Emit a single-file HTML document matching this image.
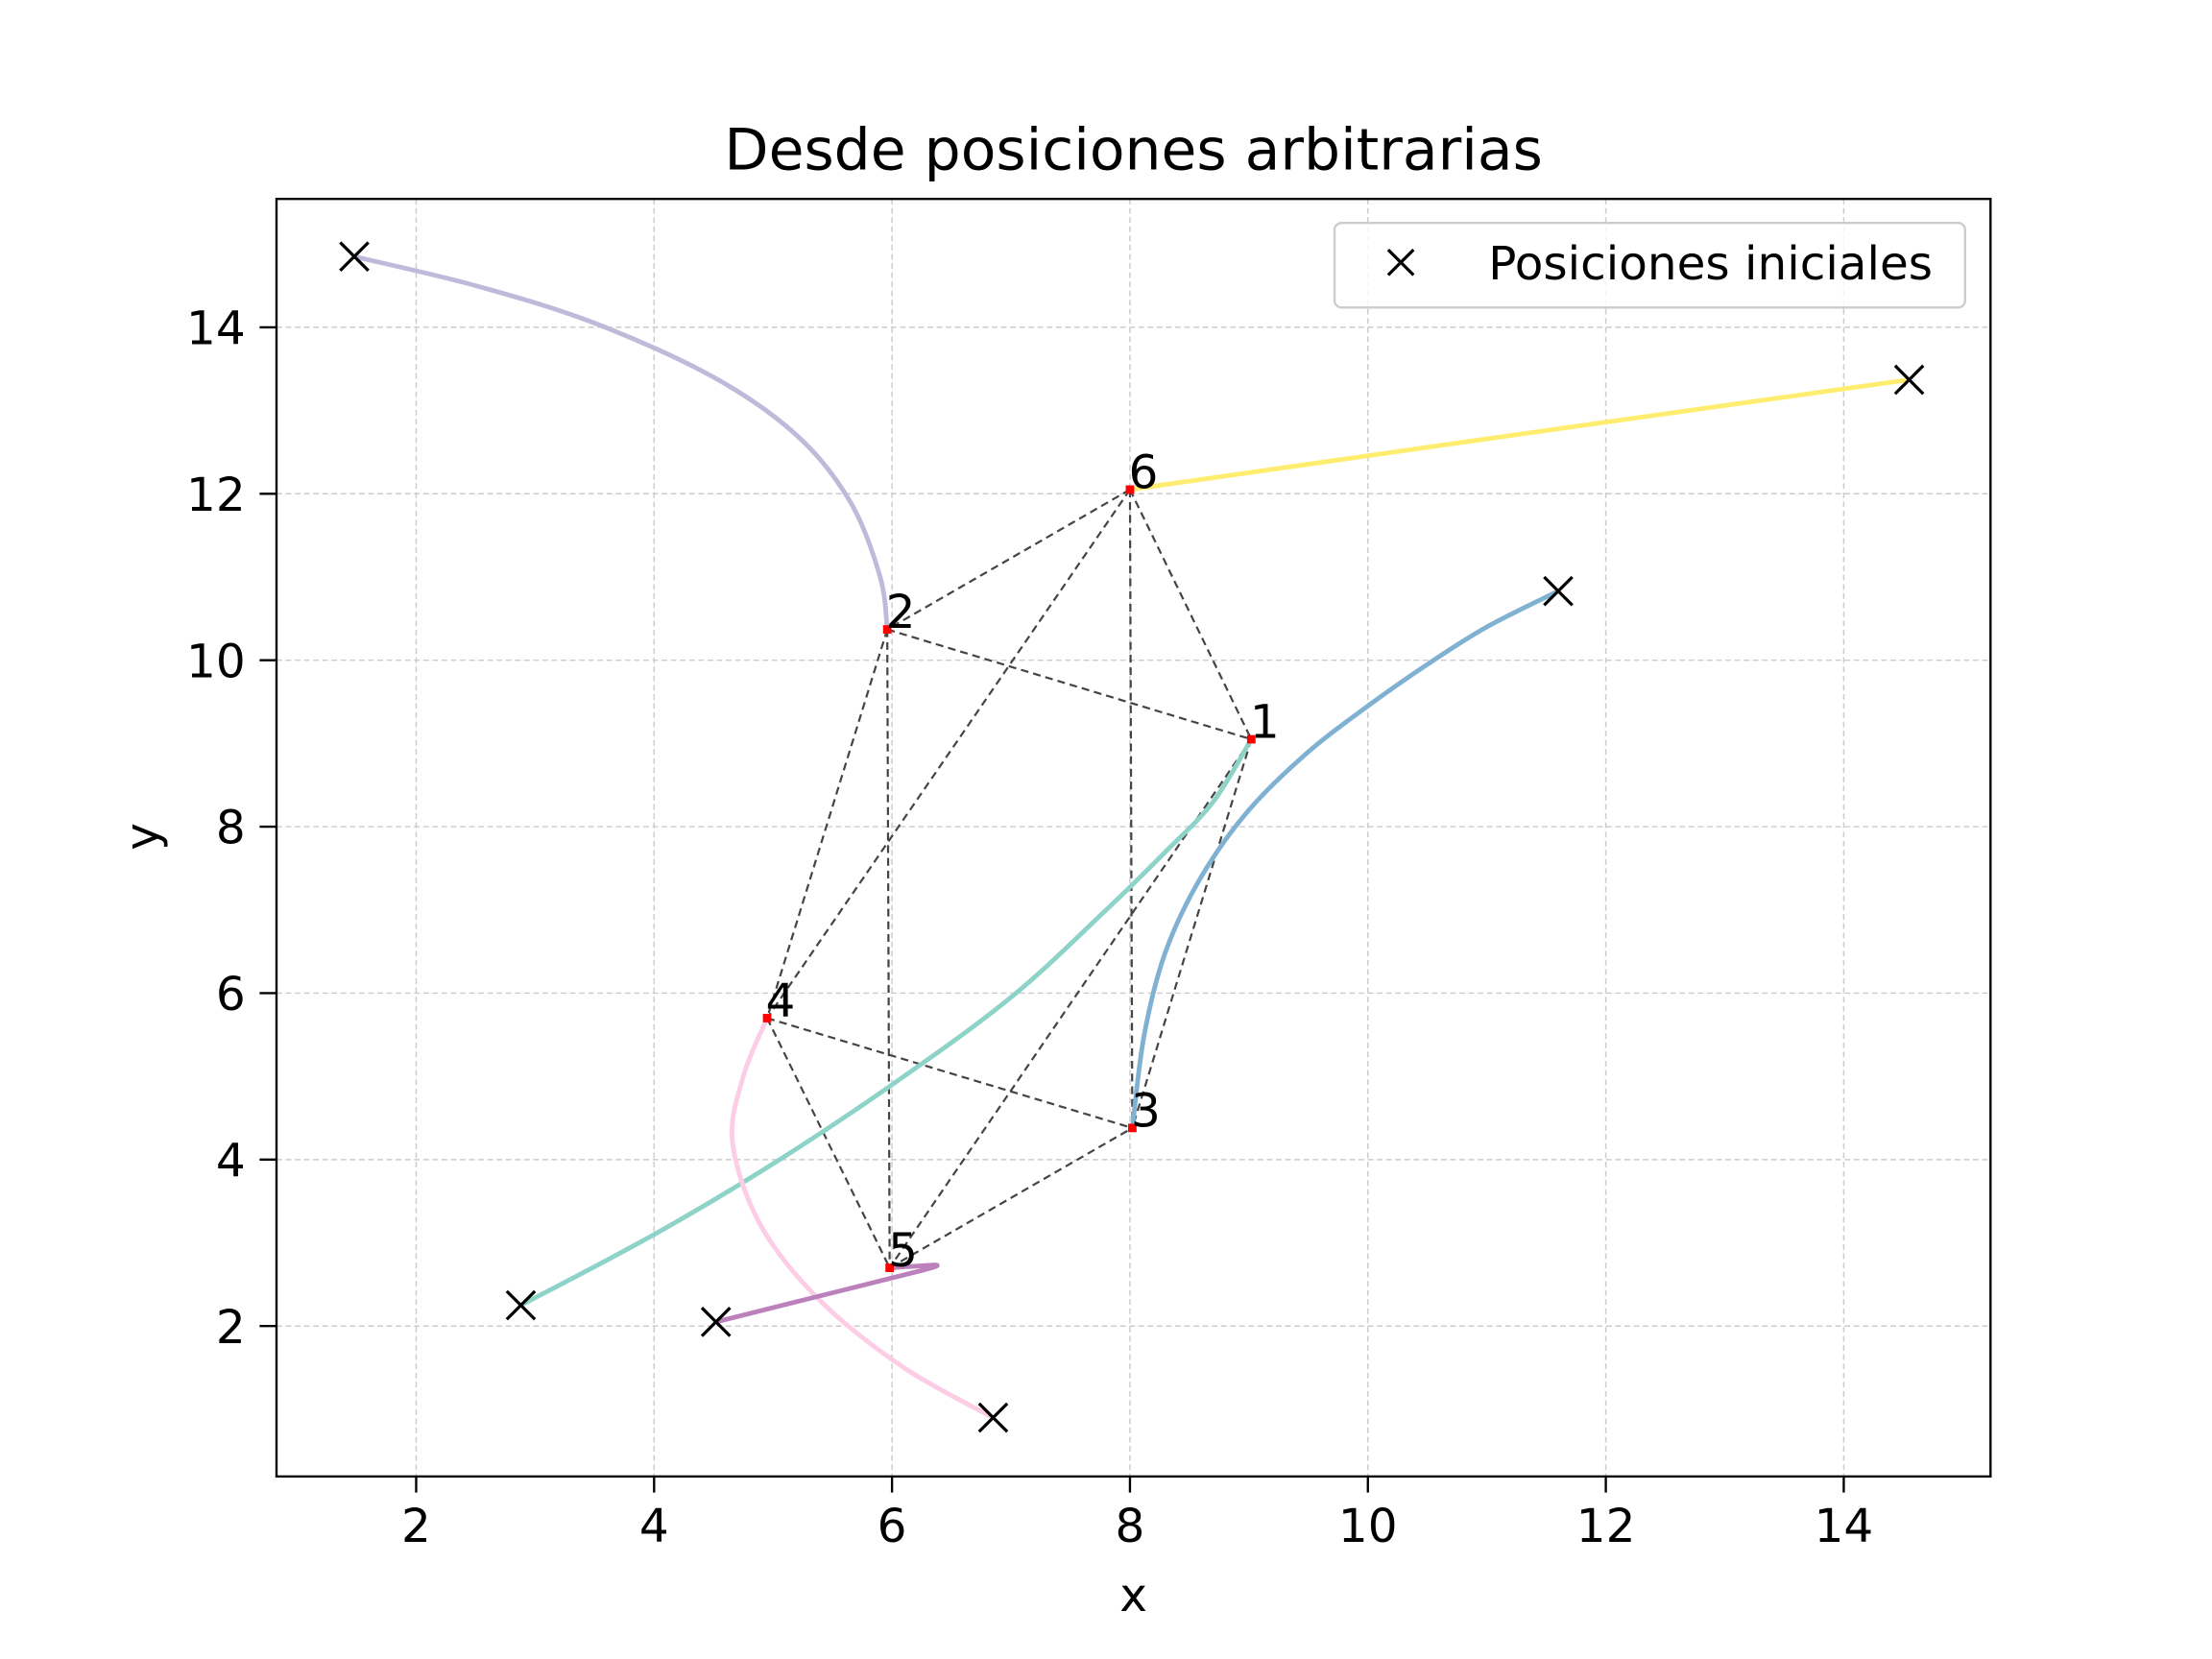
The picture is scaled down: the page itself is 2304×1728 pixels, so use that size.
<!DOCTYPE html>
<html><head><meta charset="utf-8"><style>html,body{margin:0;padding:0;background:#fff}svg{display:block}</style></head>
<body>
<svg id="chart" width="2304" height="1728" viewBox="0 0 1568 1176" xmlns="http://www.w3.org/2000/svg" font-family="'DejaVu Sans','Liberation Sans',sans-serif">
<rect width="1568" height="1176" fill="#fff"/>
<g id="grid"></g>
<g id="edges"></g>
<g id="trajs"></g>
<g id="marks"></g>
<rect x="196" y="141" width="1215" height="905.6" fill="none" stroke="#000" stroke-width="1.6"/>
<g id="ticks"></g>
<text x="803.5" y="120" font-size="40.8" text-anchor="middle">Desde posiciones arbitrarias</text>
<text x="803.5" y="1142" font-size="33" text-anchor="middle">x</text>
<text x="112" y="593" font-size="33" text-anchor="middle" transform="rotate(-90 112 593)">y</text>
<g>
<rect x="946" y="158" width="447" height="60" rx="5" fill="#fff" fill-opacity="0.8" stroke="#ccc" stroke-width="1.6"/>
<path d="M984 177L1002 195M1002 177L984 195" stroke="#000" stroke-width="2.2"/>
<text x="1055" y="198" font-size="33">Posiciones iniciales</text>
</g>
</svg>
<script>
const xTicks=[2,4,6,8,10,12,14];
const yTicks=[2,4,6,8,10,12,14];
const nodeLabels=["1","2","3","4","5","6"];
const nodeX=[9.02,5.96,8.02,4.95,5.98,8.0];
const nodeY=[9.05,10.37,4.38,5.70,2.70,12.05];
const edgeFrom=[6,6,6,6,2,2,2,1,1,4,4,5];
const edgeTo=[2,1,3,4,1,4,5,5,3,3,5,3];
const trajColors=["#8dd3c7","#bebada","#80b1d3","#fccde5","#bc80bd","#ffed6f"];
const trajX=[
 [2.88,4,5,6,7,7.8,8.3,8.7,9.02],
 [1.48,2.5,3.5,4.5,5.2,5.65,5.9,5.96],
 [11.6,11,10.5,10,9.5,9,8.6,8.3,8.12,8.02],
 [6.85,6.1,5.4,4.9,4.66,4.75,4.95],
 [4.52,5.5,6.2,6.38,6.2,5.98],
 [14.55,11.3,8.0]];
const trajY=[
 [2.25,3.1,3.95,4.9,5.95,7.0,7.7,8.3,9.05],
 [14.85,14.5,14.05,13.4,12.7,11.9,11.0,10.37],
 [10.83,10.4,9.95,9.45,8.9,8.2,7.4,6.5,5.5,4.38],
 [0.9,1.5,2.3,3.2,4.2,5.0,5.7],
 [2.05,2.4,2.65,2.73,2.72,2.70],
 [13.37,12.72,12.05]];
const initX=[2.88,1.48,11.6,6.85,4.52,14.55];
const initY=[2.25,14.85,10.83,0.9,2.05,13.37];

const NS="http://www.w3.org/2000/svg";
const X=v=>295+(v-2)*84.33;
const Y=v=>940-(v-2)*59;
function mk(parent,tag,attrs){const e=document.createElementNS(NS,tag);for(const k in attrs)e.setAttribute(k,attrs[k]);document.getElementById(parent).appendChild(e);return e;}
xTicks.forEach(t=>{
 const g=mk('grid','line',{x1:X(t),x2:X(t),y1:141,y2:1046.6,stroke:'#ccc','stroke-width':1,'stroke-dasharray':'4,2.5'});
 
 
 const tk=mk('ticks','line',{x1:X(t),x2:X(t),y1:1046.6,y2:1058,stroke:'#000','stroke-width':1.6});
 
 
 const tl=mk('ticks','text',{x:X(t),y:1093,'font-size':33,'text-anchor':'middle'});tl.textContent=t;
 
 
});
yTicks.forEach(t=>{
 const g=mk('grid','line',{x1:196,x2:1411,y1:Y(t),y2:Y(t),stroke:'#ccc','stroke-width':1,'stroke-dasharray':'4,2.5'});
 
 
 const tk=mk('ticks','line',{x1:184,x2:196,y1:Y(t),y2:Y(t),stroke:'#000','stroke-width':1.6});
 
 
 const tl=mk('ticks','text',{x:174,y:Y(t)+12,'font-size':33,'text-anchor':'end'});tl.textContent=t;
 
 
});
edgeFrom.forEach((a,i)=>{const b=edgeTo[i];
 const l=mk('edges','line',{x1:X(nodeX[a-1]),y1:Y(nodeY[a-1]),x2:X(nodeX[b-1]),y2:Y(nodeY[b-1]),stroke:'#444','stroke-width':1.5,'stroke-dasharray':'5.5,3.5'});
 
 
});
function smooth(px,py){let d='M'+px[0]+','+py[0];const n=px.length;
 for(let i=0;i+1<n;i++){const p0=i?i-1:i,p3=(i+2<n)?i+2:i+1;
  const c1x=px[i]+(px[i+1]-px[p0])/6,c1y=py[i]+(py[i+1]-py[p0])/6;
  const c2x=px[i+1]-(px[p3]-px[i])/6,c2y=py[i+1]-(py[p3]-py[i])/6;
  d+='C'+c1x+','+c1y+' '+c2x+','+c2y+' '+px[i+1]+','+py[i+1];}
 return d;}
trajX.forEach((xs,i)=>{
 const p=mk('trajs','path',{d:smooth(xs.map(X),trajY[i].map(Y)),fill:'none',stroke:trajColors[i],'stroke-width':3.3});
 
 
});
nodeX.forEach((v,i)=>{
 const r=mk('marks','rect',{x:X(v)-3,y:Y(nodeY[i])-3,width:6,height:6,fill:'#f00'});
 
 
 const t=mk('marks','text',{x:X(v)-1,y:Y(nodeY[i])-1,'font-size':33});t.textContent=nodeLabels[i];
 
 
});
initX.forEach((v,i)=>{const cx=X(v),cy=Y(initY[i]),s=10;
 const p=mk('marks','path',{d:'M'+(cx-s)+','+(cy-s)+'L'+(cx+s)+','+(cy+s)+'M'+(cx+s)+','+(cy-s)+'L'+(cx-s)+','+(cy+s),stroke:'#000','stroke-width':2.2});
 
 
});
</script>
</body></html>
